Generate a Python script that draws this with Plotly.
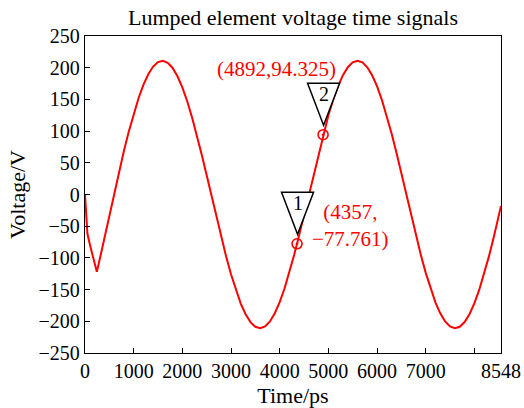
import plotly.graph_objects as go

# Sampled voltage waveform of the lumped element (time in ps, voltage in V)
time_ps = [0, 20, 50, 100, 160, 200, 243, 300, 400, 500, 600,
           700, 800, 900, 1000, 1100, 1200, 1300, 1400, 1500, 1600,
           1700, 1800, 1900, 2000, 2100, 2200, 2300, 2400, 2500, 2600,
           2700, 2800, 2900, 3000, 3100, 3200, 3300, 3400, 3500, 3600,
           3700, 3800, 3900, 4000, 4100, 4200, 4300, 4357, 4400, 4500,
           4600, 4700, 4800, 4892, 4900, 5000, 5100, 5200, 5300, 5400,
           5500, 5600, 5700, 5800, 5900, 6000, 6100, 6200, 6300, 6400,
           6500, 6600, 6700, 6800, 6900, 7000, 7100, 7200, 7300, 7400,
           7500, 7600, 7700, 7800, 7900, 8000, 8100, 8200, 8300, 8400,
           8500, 8548]
voltage_v = [0, -30, -62, -79, -98, -110, -122, -103, -69, -34, 2,
             37.2, 69.1, 99.4, 127.2, 151.9, 172.9, 189.7, 201.8, 208.9, 211.0,
             207.8, 199.6, 186.5, 168.9, 147.1, 121.6, 93.2, 62.5, 30.3, -2.7,
             -35.6, -67.6, -97.9, -125.9, -150.7, -172.0, -188.9, -201.3, -208.7, -211.0,
             -208.1, -200.2, -187.3, -169.8, -148.3, -123.0, -94.7, -77.761, -64.1, -31.9,
             1.0, 33.9, 66.0, 94.325, 96.4, 124.6, 149.6, 171.0, 188.2, 200.8,
             208.4, 211.0, 208.4, 200.7, 188.0, 170.8, 149.3, 124.3, 96.2, 65.7,
             33.6, 0.6, -32.3, -64.4, -95.0, -123.2, -148.4, -170.1, -187.4, -200.3,
             -208.2, -211.0, -208.6, -201.2, -188.8, -171.8, -150.5, -125.6, -97.6, -67.2,
             -35.2, -18.0]

# Data cursors placed on the waveform
cursor_ids = ["1", "2"]
cursor_time_ps = [4357, 4892]
cursor_voltage_v = [-77.761, 94.325]

# Axis ticks
x_tick_vals = [0, 1000, 2000, 3000, 4000, 5000, 6000, 7000, 8000, 8548]
x_tick_text = ["0", "1000", "2000", "3000", "4000", "5000", "6000", "7000", "", "8548"]
y_tick_vals = [-250, -200, -150, -100, -50, 0, 50, 100, 150, 200, 250]

FONT = "Liberation Serif"
RED = "rgb(255,0,0)"


def fmt(v):
    return f"{v:g}".replace("-", "\u2212")


fig = go.Figure()
fig.add_trace(go.Scatter(
    x=time_ps, y=voltage_v, mode="lines",
    line=dict(color=RED, width=2), hoverinfo="skip", showlegend=False,
))
fig.add_trace(go.Scatter(
    x=cursor_time_ps, y=cursor_voltage_v, mode="markers",
    marker=dict(symbol="circle-open-dot", size=10, color=RED,
                line=dict(color=RED, width=1.6)),
    showlegend=False,
))

# label placement per cursor: (text builder, x shift, y shift)
label_style = {
    "1": (lambda t, v: f"({t},<br>{fmt(v)})", 53, 18),
    "2": (lambda t, v: f"({t},{fmt(v)})", -47, 66),
}

for cid, t, v in zip(cursor_ids, cursor_time_ps, cursor_voltage_v):
    # inverted triangle flag pointing at the cursor
    fig.add_shape(
        type="path", xref="x", yref="y",
        xsizemode="pixel", ysizemode="pixel", xanchor=t, yanchor=v,
        path="M 0.5,9.5 L -15.5,51.5 L 16.5,51.5 Z",
        line=dict(color="black", width=1.5), fillcolor="white", layer="above",
    )
    fig.add_annotation(
        x=t, y=v, xref="x", yref="y", text=cid, showarrow=False,
        yshift=41, xshift=0.5, font=dict(family=FONT, size=20, color="black"),
    )
    builder, dx, dy = label_style[cid]
    fig.add_annotation(
        x=t, y=v, xref="x", yref="y", text=builder(t, v), showarrow=False,
        xshift=dx, yshift=dy, align="center",
        font=dict(family=FONT, size=21, color=RED),
    )

axis_common = dict(
    showgrid=False, zeroline=False, showline=True, linecolor="black", linewidth=1.3,
    mirror=True, ticks="inside", ticklen=5, tickwidth=1.3, tickcolor="black",
    tickfont=dict(family=FONT, size=20, color="black"), automargin=False,
)

fig.update_layout(
    width=524, height=408,
    margin=dict(l=85, r=23, t=36, b=55),
    paper_bgcolor="white", plot_bgcolor="white",
    title=dict(text="Lumped element voltage time signals", x=0.5, xref="paper",
               y=1 - 17 / 408, yref="container", yanchor="middle", xanchor="center",
               font=dict(family=FONT, size=22, color="black")),
    xaxis=dict(range=[0, 8548], tickvals=x_tick_vals, ticktext=x_tick_text,
               title=dict(text="Time/ps", font=dict(family=FONT, size=22, color="black"),
                          standoff=6),
               **axis_common),
    yaxis=dict(range=[-250, 250], tickvals=y_tick_vals,
               title=dict(text="Voltage/V", font=dict(family=FONT, size=22, color="black"),
                          standoff=6),
               **axis_common),
)

fig.write_html("out.html")
